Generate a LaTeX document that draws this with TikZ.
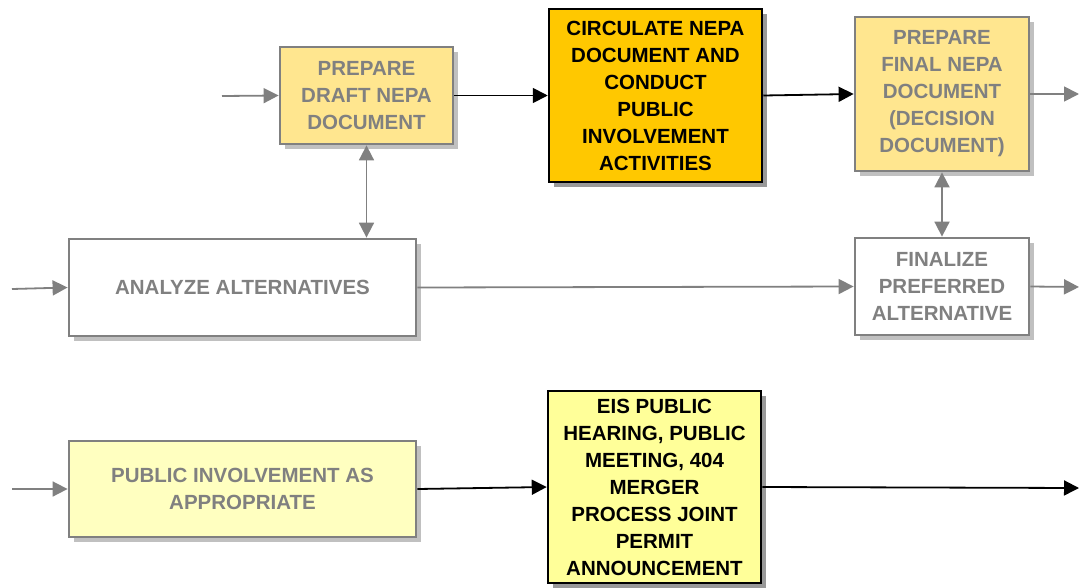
\documentclass[tikz,border=0pt]{standalone}
\usepackage{fontspec}
\setmainfont{Liberation Sans}
\usetikzlibrary{arrows.meta}
\definecolor{gline}{HTML}{808080}
\definecolor{gshadow}{HTML}{C0C0C0}
\definecolor{dshadow}{HTML}{999999}
\definecolor{draftfill}{HTML}{FFE68F}
\definecolor{circfill}{HTML}{FFC800}
\definecolor{eisfill}{HTML}{FFFF99}
\definecolor{pubfill}{HTML}{FFFFC0}
\tikzset{
  x=1pt,y=-1pt,
  base/.style={rectangle, align=center, inner sep=0pt, font=\fontsize{20.5}{27}\selectfont\bfseries},
  graybox/.style={base, draw=gline, line width=2.8pt, text=gline,
     preaction={fill=gshadow, transform canvas={shift={(5pt,-5pt)}}}},
  blackbox/.style={base, draw=black, line width=2.5pt, text=black,
     preaction={fill=dshadow, transform canvas={shift={(5pt,-5pt)}}}},
  tip/.style={Triangle[length=15pt,width=15pt]},
  garrow/.style={draw=gline, line width=1.8pt, -{Triangle[length=15pt,width=15pt]}},
  gdarrow/.style={draw=gline, line width=1.8pt, {Triangle[length=15pt,width=15pt]}-{Triangle[length=15pt,width=15pt]}},
  barrow/.style={draw=black, line width=1.8pt, -{Triangle[length=15pt,width=15pt]}},
}
\begin{document}
\begin{tikzpicture}
\useasboundingbox (0,0) rectangle (1079,587);
\node[graybox, fill=draftfill, minimum width=173pt, minimum height=97pt] (draft) at (366.5,95.5) {PREPARE\\DRAFT NEPA\\DOCUMENT};
\node[blackbox, fill=circfill, minimum width=213pt, minimum height=173pt] (circ) at (655.5,95.5) {CIRCULATE NEPA\\DOCUMENT AND\\CONDUCT\\PUBLIC\\INVOLVEMENT\\ACTIVITIES};
\node[graybox, fill=draftfill, minimum width=174pt, minimum height=154pt] (final) at (942,94) {PREPARE\\FINAL NEPA\\DOCUMENT\\(DECISION\\DOCUMENT)};
\node[graybox, fill=white, minimum width=174pt, minimum height=97pt] (finz) at (942,286.5) {FINALIZE\\PREFERRED\\ALTERNATIVE};
\node[graybox, fill=white, minimum width=347pt, minimum height=97pt] (anal) at (242.5,287.5) {ANALYZE ALTERNATIVES};
\node[graybox, fill=pubfill, minimum width=347pt, minimum height=96pt] (pub) at (242.5,489) {PUBLIC INVOLVEMENT AS\\APPROPRIATE};
\node[blackbox, fill=eisfill, minimum width=213pt, minimum height=192pt] (eis) at (654.5,487) {EIS PUBLIC\\HEARING, PUBLIC\\MEETING, 404\\MERGER\\PROCESS JOINT\\PERMIT\\ANNOUNCEMENT};

\coordinate (in1) at (222,96);
\coordinate (in2) at (12,289);
\coordinate (in3) at (12,489);
\coordinate (out1) at (1079,94);
\coordinate (out2) at (1079,287);
\coordinate (out3) at (1079,488);

\draw[garrow] (in1) -- (draft.west);
\draw[barrow] (draft.east) -- (circ.west |- draft.east);
\draw[barrow] (circ.east) -- (final.west);
\draw[garrow] (final.east) -- (out1);
\draw[gdarrow] (draft.south) -- (anal.north -| draft.south);
\draw[gdarrow] (final.south) -- (finz.north);
\draw[garrow] (in2) -- (anal.west);
\draw[garrow] (anal.east) -- (finz.west);
\draw[garrow] (finz.east) -- (out2);
\draw[garrow] (in3) -- (pub.west);
\draw[barrow] (pub.east) -- (eis.west);
\draw[barrow] (eis.east) -- (out3);
\end{tikzpicture}
\end{document}
